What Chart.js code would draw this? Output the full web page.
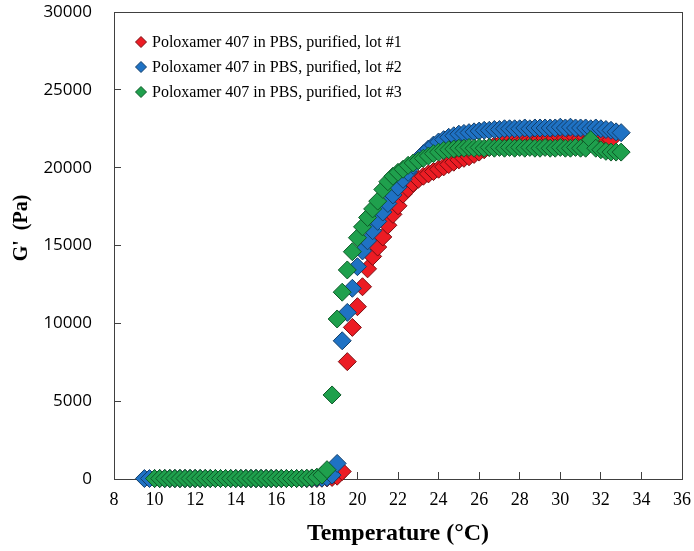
<!DOCTYPE html>
<html>
<head>
<meta charset="utf-8">
<script src="https://cdn.jsdelivr.net/npm/chart.js@4.4.0/dist/chart.umd.min.js"></script>
<style>
  html, body { margin: 0; padding: 0; background: #fff; }
  #wrap { width: 694px; height: 551px; position: relative; }
</style>
</head>
<body>
<div id="wrap"><canvas id="gChart"></canvas></div>
<script>
// temperature ramp (°C), shared by all three lots
const temperature = [
  9.5, 9.75, 10, 10.25, 10.5, 10.75, 11, 11.25, 11.5, 11.75,
  12, 12.25, 12.5, 12.75, 13, 13.25, 13.5, 13.75, 14, 14.25,
  14.5, 14.75, 15, 15.25, 15.5, 15.75, 16, 16.25, 16.5, 16.75,
  17, 17.25, 17.5, 17.75, 18, 18.25, 18.5, 18.75, 19, 19.25,
  19.5, 19.75, 20, 20.25, 20.5, 20.75, 21, 21.25, 21.5, 21.75,
  22, 22.25, 22.5, 22.75, 23, 23.25, 23.5, 23.75, 24, 24.25,
  24.5, 24.75, 25, 25.25, 25.5, 25.75, 26, 26.25, 26.5, 26.75,
  27, 27.25, 27.5, 27.75, 28, 28.25, 28.5, 28.75, 29, 29.25,
  29.5, 29.75, 30, 30.25, 30.5, 30.75, 31, 31.25, 31.5, 31.75,
  32, 32.25, 32.5, 32.75, 33
];

// G' (Pa), null where a lot has no reading
const lot1 = [
  null, null, 30, 30, 30, 30, 30, 30, 30, 30,
  30, 30, 30, 30, 30, 30, 30, 30, 30, 30,
  30, 30, 30, 30, 30, 30, 30, 30, 30, 30,
  30, 30, 30, 30, 40, 50, 70, 100, 180, 480,
  7540, 9740, 11070, 12350, 13500, 14300, 14900, 15550, 16300, 17000,
  17550, 18300, 18650, 19000, 19250, 19450, 19600, 19750, 19900, 20050,
  20200, 20350, 20500, 20600, 20700, 20850, 21000, 21150, 21300, 21400,
  21500, 21600, 21650, 21700, 21750, 21800, 21800, 21850, 21850, 21900,
  21900, 21900, 21950, 21900, 21950, 21950, 21900, 21950, 21900, 21950,
  21900, 21850, 21800, null, null
];

const lot2 = [
  30, 30, 30, 30, 30, 30, 30, 30, 30, 30,
  30, 30, 30, 30, 30, 30, 30, 30, 30, 30,
  30, 30, 30, 30, 30, 30, 30, 30, 30, 30,
  30, 30, 30, 40, 50, 60, 100, 250, 1000, 8880,
  10700, 12250, 13640, 14650, 15300, 15950, 16550, 17150, 17700, 18250,
  18750, 19250, 19700, 20150, 20550, 20900, 21200, 21450, 21650, 21800,
  21950, 22050, 22150, 22200, 22250, 22300, 22350, 22400, 22400, 22450,
  22450, 22500, 22500, 22500, 22500, 22550, 22500, 22550, 22550, 22550,
  22550, 22550, 22600, 22550, 22600, 22550, 22550, 22550, 22500, 22550,
  22500, 22450, 22400, 22300, 22250
];

const lot3 = [
  null, null, 30, 30, 30, 30, 30, 30, 30, 30,
  30, 30, 30, 30, 30, 30, 30, 30, 30, 30,
  30, 30, 30, 30, 30, 30, 30, 30, 30, 30,
  30, 40, 50, 70, 120, 250, 600, 5400, 10280, 12000,
  13430, 14600, 15500, 16200, 16800, 17350, 17850, 18600, 19100, 19450,
  19700, 19900, 20150, 20300, 20450, 20600, 20750, 20900, 21000, 21100,
  21150, 21200, 21250, 21250, 21300, 21250, 21300, 21250, 21300, 21250,
  21300, 21250, 21300, 21250, 21300, 21250, 21300, 21250, 21250, 21300,
  21250, 21250, 21300, 21250, 21250, 21300, 21250, 21250, 21800, 21250,
  21150, 21050, 21000, 21000, 21000
];

const seriesNames = [
  'Poloxamer 407 in PBS, purified, lot #1',
  'Poloxamer 407 in PBS, purified, lot #2',
  'Poloxamer 407 in PBS, purified, lot #3'
];
const xTicks = [8, 10, 12, 14, 16, 18, 20, 22, 24, 26, 28, 30, 32, 34, 36];
const yTicks = [0, 5000, 10000, 15000, 20000, 25000, 30000];

function toPoints(values) {
  const pts = [];
  values.forEach((v, i) => { if (v !== null) pts.push({ x: temperature[i], y: v }); });
  return pts;
}

function makeSet(label, values, fill, edge, order) {
  return {
    label: label,
    data: toPoints(values),
    backgroundColor: fill,
    borderColor: edge,
    borderWidth: 1,
    pointStyle: 'rectRot',
    pointRadius: 9,
    order: order,
    clip: false
  };
}

// box around the plot area
const framePlugin = {
  id: 'frame',
  beforeDatasetsDraw(chart) {
    const a = chart.chartArea, ctx = chart.ctx;
    ctx.save();
    ctx.strokeStyle = '#404040';
    ctx.lineWidth = 1;
    ctx.strokeRect(Math.round(a.left) + 0.5, Math.round(a.top) + 0.5,
      Math.round(a.right - a.left), Math.round(a.bottom - a.top));
    ctx.restore();
  }
};

// legend sits inside the plot, top left
const insideLegend = {
  id: 'insideLegend',
  afterDraw(chart) {
    const ctx = chart.ctx, a = chart.chartArea;
    ctx.save();
    ctx.font = '16px "Liberation Serif"';
    ctx.textBaseline = 'middle';
    chart.data.datasets.forEach((ds, i) => {
      const x = a.left + 27, y = a.top + 30 + i * 25, r = 5.5;
      ctx.beginPath();
      ctx.moveTo(x, y - r); ctx.lineTo(x + r, y); ctx.lineTo(x, y + r); ctx.lineTo(x - r, y);
      ctx.closePath();
      ctx.fillStyle = ds.backgroundColor; ctx.fill();
      ctx.strokeStyle = ds.borderColor; ctx.lineWidth = 1; ctx.stroke();
      ctx.fillStyle = '#000';
      ctx.fillText(ds.label, x + 11, y + 1);
    });
    ctx.restore();
  }
};

const ctx = document.getElementById('gChart').getContext('2d');
new Chart(ctx, {
  type: 'scatter',
  data: {
    datasets: [
      makeSet(seriesNames[0], lot1, '#ec1c24', '#7a0d10', 3),
      makeSet(seriesNames[1], lot2, '#1f72c4', '#123e6a', 2),
      makeSet(seriesNames[2], lot3, '#1fa04d', '#0d5a28', 1)
    ]
  },
  options: {
    responsive: true,
    maintainAspectRatio: false,
    animation: false,
    layout: { padding: { top: 12, right: 12, left: 0, bottom: 0 } },
    plugins: { legend: { display: false }, tooltip: { enabled: false } },
    scales: {
      x: {
        type: 'linear',
        min: 8, max: 36,
        afterBuildTicks: s => { s.ticks = xTicks.map(v => ({ value: v })); },
        afterFit: s => { s.height = 72; s.paddingLeft = 0; s.paddingRight = 0; },
        border: { display: false },
        grid: { drawOnChartArea: false, tickLength: -7, color: '#404040' },
        ticks: {
          color: '#000', padding: 17, maxRotation: 0,
          font: { family: '"Liberation Serif"', size: 18 }
        },
        title: {
          display: true, text: 'Temperature (°C)', color: '#000',
          padding: { top: 0, bottom: 3 },
          font: { family: '"Liberation Serif"', size: 24, weight: 'bold' }
        }
      },
      y: {
        type: 'linear',
        min: 0, max: 30000,
        afterBuildTicks: s => { s.ticks = yTicks.map(v => ({ value: v })); },
        afterFit: s => { s.width = 114; s.paddingTop = 0; s.paddingBottom = 0; },
        border: { display: false },
        grid: { drawOnChartArea: false, tickLength: -7, color: '#404040' },
        ticks: {
          color: '#000', padding: 29,
          callback: v => String(v),
          font: { family: '"Open Sans"', size: 17 }
        },
        title: {
          display: true, text: "       G'  (Pa)", color: '#000',
          padding: { top: 10, bottom: 0 },
          font: { family: '"Liberation Serif"', size: 20, weight: 'bold' }
        }
      }
    }
  },
  plugins: [framePlugin, insideLegend]
});
</script>
</body>
</html>
